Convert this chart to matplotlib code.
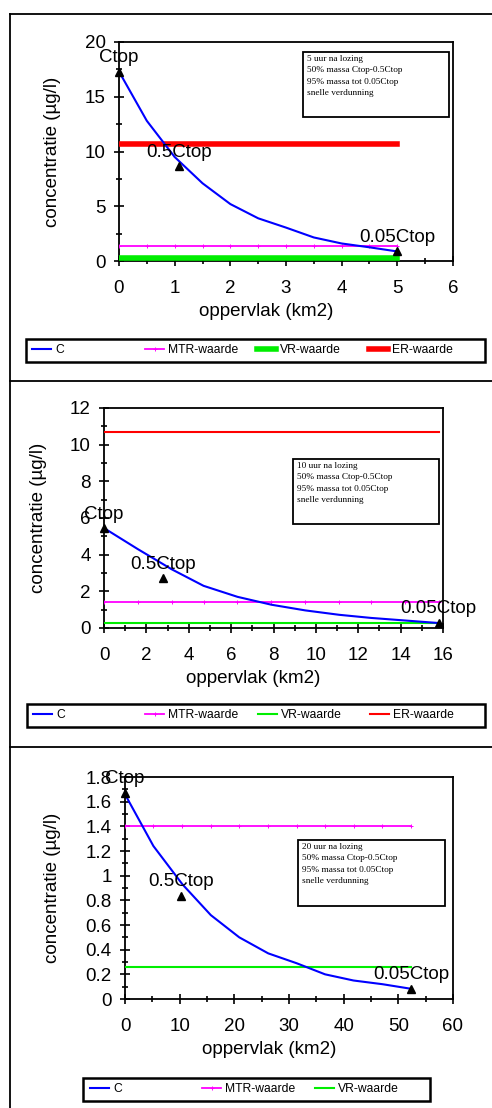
import numpy as np
import matplotlib
matplotlib.use("Agg")
import matplotlib.pyplot as plt
from matplotlib.lines import Line2D
from matplotlib.patches import Rectangle
from matplotlib.ticker import MultipleLocator, FormatStrFormatter

plt.rcParams['font.family'] = ['Liberation Sans', 'DejaVu Sans']

# data
area5 = [0, 0.5, 1.0, 1.5, 2.0, 2.5, 3.0, 3.5, 4.0, 4.5, 5.0]
conc5 = [17.3, 12.8, 9.5, 7.1, 5.2, 3.9, 3.05, 2.15, 1.6, 1.25, 0.87]
peak5_x = [0, 1.07, 5.0]
peak5_y = [17.3, 8.65, 0.87]

area10 = [0, 1.6, 3.2, 4.7, 6.3, 7.9, 9.5, 11.1, 12.6, 14.2, 15.8]
conc10 = [5.45, 4.3, 3.2, 2.3, 1.7, 1.27, 0.96, 0.72, 0.55, 0.41, 0.27]
peak10_x = [0, 2.8, 15.8]
peak10_y = [5.45, 2.72, 0.27]

area20 = [0, 5.2, 10.5, 15.7, 20.9, 26.2, 31.4, 36.6, 41.8, 47.1, 52.3]
conc20 = [1.66, 1.24, 0.93, 0.68, 0.50, 0.37, 0.29, 0.20, 0.15, 0.12, 0.083]
peak20_x = [0, 10.3, 52.3]
peak20_y = [1.67, 0.835, 0.083]

peak_labels = ["Ctop", "0.5Ctop", "0.05Ctop"]
mtr = 1.4
vr = 0.26
er = 10.7

box_lines = {5: "5 uur na lozing", 10: "10 uur na lozing", 20: "20 uur na lozing"}
box_rest = ["50% massa Ctop-0.5Ctop", "95% massa tot 0.05Ctop", "snelle verdunning"]

W, H = 492, 1108
fig = plt.figure(figsize=(W / 100, H / 100), dpi=100)


def px_rect(x0, y0, x1, y1):
    # pixel box (top-left origin) -> figure fraction [l, b, w, h]
    return [x0 / W, 1 - y1 / H, (x1 - x0) / W, (y1 - y0) / H]


def draw_panel(rect, area, conc, px, py, hours, xmax, ymax, xmaj, ymaj,
               thick, show_er, ylab_x, tbox, legbox, leg_x):
    ax = fig.add_axes(px_rect(*rect))
    n = len(area)
    xs = [area[0], area[-1]]
    ax.plot(area, conc, color='#0000ff', lw=1.5, label='C', zorder=4)
    ax.plot(area, [mtr] * n, color='#ff00ff', lw=1.3, marker='+', ms=3,
            mew=0.7, label='MTR-waarde', zorder=3)
    ax.plot(xs, [vr, vr], color='#00ee00', lw=4 if thick else 1.5,
            label='VR-waarde', zorder=3)
    if show_er:
        ax.plot(xs, [er, er], color='#ff0000', lw=4 if thick else 1.5,
                label='ER-waarde', zorder=3)
    ax.plot(px, py, linestyle='none', marker='^', color='black', ms=6,
            zorder=5, clip_on=False)
    for x, y, lab in zip(px, py, peak_labels):
        ax.annotate(lab, (x, y), xytext=(0, 4), textcoords='offset points',
                    ha='center', va='bottom', fontsize=13.5, zorder=6,
                    annotation_clip=False)

    ax.set_xlim(0, xmax)
    ax.set_ylim(0, ymax)
    ax.xaxis.set_major_locator(MultipleLocator(xmaj))
    ax.xaxis.set_minor_locator(MultipleLocator(xmaj / 2))
    ax.yaxis.set_major_locator(MultipleLocator(ymaj))
    ax.yaxis.set_minor_locator(MultipleLocator(ymaj / 2))
    ax.yaxis.set_major_formatter(FormatStrFormatter('%g'))
    ax.tick_params(which='major', direction='inout', length=7, width=1.2,
                   labelsize=13.5, pad=6)
    ax.tick_params(which='minor', direction='inout', length=5, width=1.2)
    ax.tick_params(axis='x', which='major', pad=10)
    for s in ax.spines.values():
        s.set_linewidth(1.3)

    ax.set_xlabel('oppervlak (km2)', fontsize=13.5)
    ax.set_ylabel('concentratie (µg/l)', fontsize=13.5)
    ax.xaxis.set_label_coords(0.44, -0.19)
    ax.yaxis.set_label_coords((ylab_x - rect[0]) / (rect[2] - rect[0]), 0.5)

    # info box
    bx = px_rect(*tbox)
    fig.add_artist(Rectangle((bx[0], bx[1]), bx[2], bx[3], transform=fig.transFigure,
                             fill=True, facecolor='white', edgecolor='black', lw=1.3,
                             zorder=10))
    txt = "\n".join([box_lines[hours]] + box_rest)
    fig.text(bx[0] + 4 / W, bx[1] + bx[3] - 3 / H, txt, ha='left', va='top',
             fontsize=6.7, family=['Liberation Serif', 'DejaVu Serif'],
             linespacing=1.55, zorder=11)

    # legend: framed strip with evenly spaced entries
    lb = px_rect(*legbox)
    fig.add_artist(Rectangle((lb[0], lb[1]), lb[2], lb[3], transform=fig.transFigure,
                             fill=False, edgecolor='black', lw=1.8))
    yc = lb[1] + lb[3] / 2
    handles, labels = ax.get_legend_handles_labels()
    for h, l, x in zip(handles, labels, leg_x):
        fig.legend([h], [l], loc='center left', bbox_to_anchor=(x / W, yc),
                   frameon=False, fontsize=8.7, handlelength=1.6,
                   handletextpad=0.3, borderpad=0, borderaxespad=0)
    return ax


draw_panel((119, 42, 453, 261), area5, conc5, peak5_x, peak5_y, 5, 6, 20, 1, 5,
           True, True, 61, (303, 52, 449, 117), (26, 339, 485, 362),
           [32, 145, 257, 369])
draw_panel((104, 408, 443, 628), area10, conc10, peak10_x, peak10_y, 10, 16, 12, 2, 2,
           False, True, 47, (293, 459, 439, 524), (27, 704, 485, 727),
           [33, 145, 258, 370])
draw_panel((125, 777, 453, 999), area20, conc20, peak20_x, peak20_y, 20, 60, 1.8, 10, 0.2,
           False, False, 61, (298, 840, 445, 906), (83, 1078, 430, 1101),
           [90, 202, 315])

# page frame lines
fl = dict(color='black', lw=1.3, transform=fig.transFigure)
fig.add_artist(Line2D([10 / W, 10 / W], [0, 1 - 14 / H], **fl))
for yy in [14, 381, 747]:
    fig.add_artist(Line2D([10 / W, 1], [1 - yy / H, 1 - yy / H], **fl))

fig.savefig('out.png', dpi=100)
